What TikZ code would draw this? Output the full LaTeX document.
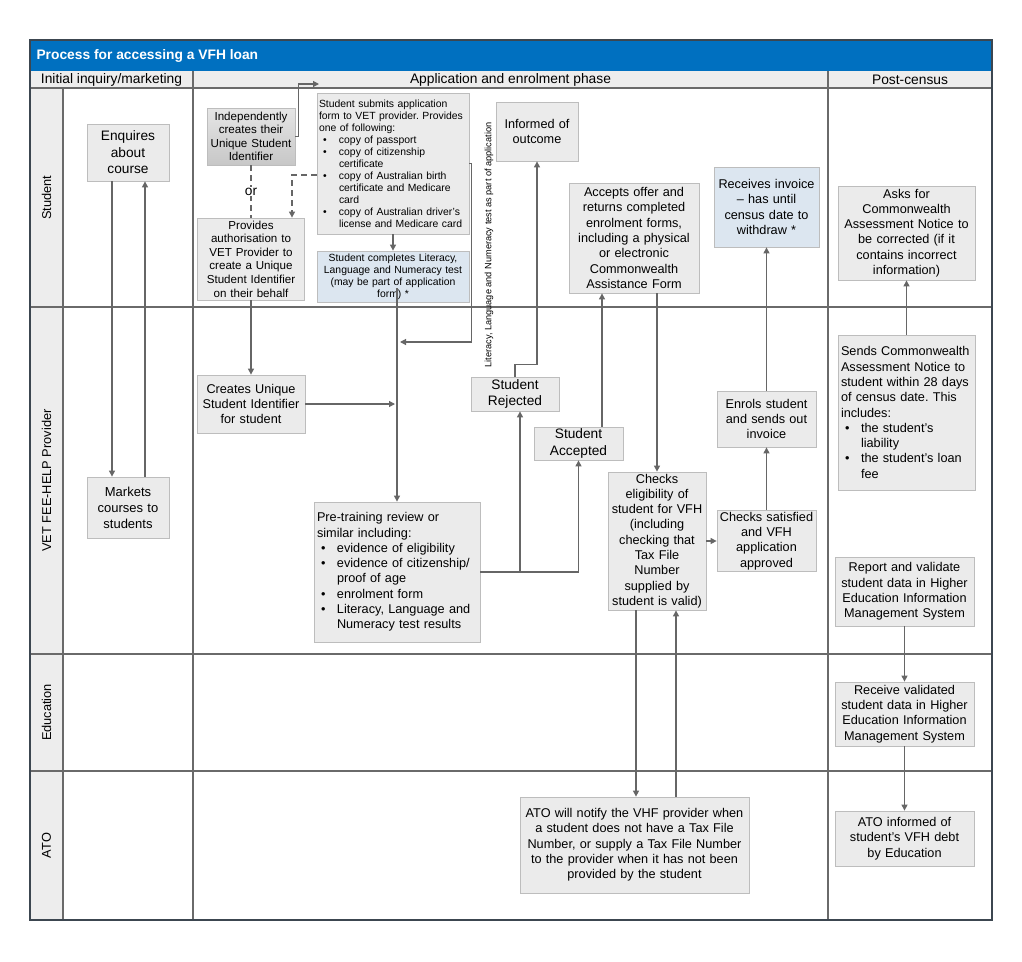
\documentclass[tikz,border=0pt]{standalone}
\usepackage{fontspec}
\setmainfont{Liberation Sans}
\usetikzlibrary{arrows.meta}
\frenchspacing
\definecolor{boxfill}{HTML}{EBEBEB}
\definecolor{boxline}{HTML}{BDBDBD}
\definecolor{bluefill}{HTML}{DCE6F0}
\definecolor{arrowc}{HTML}{666666}
\definecolor{laneline}{HTML}{6A6A6A}
\definecolor{titleblue}{HTML}{0070C0}
\definecolor{headfill}{HTML}{EDEDED}
\definecolor{framec}{HTML}{3C4650}
\newcommand{\fs}[2]{\fontsize{#1}{#2}\selectfont}
\newcommand{\bitem}[1]{\par\noindent\hangindent=20pt\hangafter=1\makebox[20pt][l]{\hspace{4pt}\textbullet}#1}
\tikzset{
  box/.style={draw=boxline, fill=boxfill, line width=0.8pt, align=center, inner sep=0pt, font=\fs{12.7}{15.3}},
  bluebox/.style={box, fill=bluefill},
  sz/.style n args={3}{minimum width=#1pt, minimum height=#2pt, text width=#3pt},
  arr/.style={draw=arrowc, line width=1.2pt, -{Triangle[length=6pt,width=6pt]}},
  dashln/.style={draw=arrowc, line width=1.2pt, dash pattern=on 6pt off 4pt},
  lane/.style={draw=laneline, line width=1.1pt},
  lanelbl/.style={rotate=90, font=\fs{12.8}{15}},
  hdr/.style={font=\fs{13.8}{16}}
}
\begin{document}
\begin{tikzpicture}[x=1pt,y=-1pt]
\fill[white] (0,0) rectangle (1022,961);
\useasboundingbox (0,0) rectangle (1022,961);
% frame
\fill[titleblue] (30,40) rectangle (992,71);
\fill[headfill] (30,71) rectangle (992,88);
\fill[headfill] (30,88) rectangle (63,920);
\node[anchor=west, text=white, font=\bfseries\fs{13.8}{16}] (title) at (33,55.5) {Process for accessing a VFH loan};
\draw[lane] (30,88) -- (992,88);
\draw[lane] (30,307) -- (992,307);
\draw[lane] (30,654) -- (992,654);
\draw[lane] (30,771) -- (992,771);
\draw[lane] (63,88) -- (63,920);
\draw[lane] (193,71) -- (193,920);
\draw[lane] (828,71) -- (828,920);
\draw[framec, line width=1.2pt] (30,40) rectangle (992,920);
\node[hdr] (h1) at (111.5,79.5) {Initial inquiry/marketing};
\node[hdr] (h2) at (510.5,79.5) {Application and enrolment phase};
\node[hdr] (h3) at (910,79.5) {Post-census};
\node[lanelbl] (l1) at (46.5,197.5) {Student};
\node[lanelbl] (l2) at (46.5,480.5) {VET FEE-HELP Provider};
\node[lanelbl] (l3) at (46.5,712.5) {Education};
\node[lanelbl] (l4) at (46.5,845.5) {ATO};

% boxes
\node[box, sz={82}{57}{80}, font=\fs{13.7}{16.5}] (enq) at (128,152.5) {Enquires\\about\\course};
\node[box, sz={82}{61}{80}, font=\fs{13}{16}] (mkt) at (128,507.5) {Markets\\courses to\\students};
\node[box, sz={88}{57}{86}, font=\fs{11.6}{13.4}, top color=black!10, bottom color=black!22, draw=boxline] (indep) at (251,136.5) {Independently\\creates their\\Unique Student\\Identifier};
\node[box, sz={107}{82}{105}, font=\fs{11.6}{13.6}] (prov) at (251,259) {Provides\\authorisation to\\VET Provider to\\create a Unique\\Student Identifier\\on their behalf};
\node[box, sz={152}{141}{148}, align=left, font=\fs{10.4}{12}] (subm) at (393,163.5) {Student submits application\newline form to VET provider. Provides\newline one of following:
\bitem{copy of passport}
\bitem{copy of citizenship\newline certificate}
\bitem{copy of Australian birth\newline certificate and Medicare\newline card}
\bitem{copy of Australian driver's\newline license and Medicare card}\par};
\node[bluebox, sz={152}{51}{150}, font=\fs{10.4}{12}] (lln) at (393,276.5) {Student completes Literacy,\\Language and Numeracy test\\(may be part of application\\form) *};
\node[box, sz={82}{59}{80}] (inf) at (537,131.5) {Informed of\\outcome};
\node[box, sz={130}{110}{128}] (acco) at (634,238) {Accepts offer and\\returns completed\\enrolment forms,\\including a physical\\or electronic\\Commonwealth\\Assistance Form};
\node[bluebox, sz={105}{80}{103}] (recv) at (766.5,207) {Receives invoice\\– has until\\census date to\\withdraw *};
\node[box, sz={137}{94}{135}] (asks) at (906.5,233) {Asks for\\Commonwealth\\Assessment Notice to\\be corrected (if it\\contains incorrect\\information)};
\node[box, sz={108}{58}{106}] (creates) at (251,404) {Creates Unique\\Student Identifier\\for student};
\node[box, sz={88}{34}{86}, font=\fs{13.7}{16.7}] (rej) at (515,394) {Student\\Rejected};
\node[box, sz={89}{33}{87}, font=\fs{13.7}{16.7}] (accd) at (578.5,443.5) {Student\\Accepted};
\node[box, sz={166}{140}{160}, align=left] (pre) at (397,572) {Pre-training review or\newline similar including:
\bitem{evidence of eligibility}
\bitem{evidence of citizenship/\newline proof of age}
\bitem{enrolment form}
\bitem{Literacy, Language and\newline Numeracy test results}\par};
\node[box, sz={98}{138}{96}] (chk) at (657,541) {Checks\\eligibility of\\student for VFH\\(including\\checking that\\Tax File\\Number\\supplied by\\student is valid)};
\node[box, sz={99}{61}{97}] (sat) at (766.5,541) {Checks satisfied\\and VFH\\application\\approved};
\node[box, sz={99}{56}{97}] (enrol) at (766.5,419) {Enrols student\\and sends out\\invoice};
\node[box, sz={137}{155}{131}, align=left] (sends) at (906.5,412.5) {Sends Commonwealth\newline Assessment Notice to\newline student within 28 days\newline of census date. This\newline includes:
\bitem{the student's\newline liability}
\bitem{the student's loan\newline fee}\par};
\node[box, sz={139}{69}{137}] (report) at (904.5,591.5) {Report and validate\\student data in Higher\\Education Information\\Management System};
\node[box, sz={139}{64}{137}] (recvd) at (904.5,714) {Receive validated\\student data in Higher\\Education Information\\Management System};
\node[box, sz={139}{55}{137}] (atoinf) at (904.5,838.5) {ATO informed of\\student's VFH debt\\by Education};
\node[box, sz={229}{96}{227}] (ato) at (634.5,845) {ATO will notify the VHF provider when\\a student does not have a Tax File\\Number, or supply a Tax File Number\\to the provider when it has not been\\provided by the student};

\node[rotate=90, font=\fs{9.2}{11}] (lbl) at (489,245) {Literacy, Language and Numeracy test as part of application};

% connectors
\draw[arr] ([xshift=-16pt]enq.south) -- ([xshift=-16pt]mkt.north);
\draw[arr] ([xshift=17pt]mkt.north) -- ([xshift=17pt]enq.south);
\coordinate (hdrend) at (319,84);
\draw[arr] (indep.east) -- ++(3,0) |- (hdrend);
\draw[dashln] (indep.south) -- node[fill=white, inner sep=1pt, font=\fs{13.7}{16}] (or) {or} (prov.north);
\coordinate (d1) at ([xshift=41pt]prov.north);
\draw[dashln, -{Triangle[length=6pt,width=6pt]}] ([yshift=-11.5pt]subm.west) -| (d1);
\draw[arr] (subm.south) -- (lln.north);
\draw[arr] ([xshift=4pt,yshift=14pt]lln.south) -- (pre.north);
\coordinate (llnjoin) at (400,342);
\draw[arr] (subm.east) -- ++(2,0) |- (llnjoin);
\draw[arr] (prov.south) -- (creates.north);
\coordinate (crjoin) at (395,404);
\draw[arr] (creates.east) -- (crjoin);
\draw[arr] (pre.east) -| (accd.south);
\coordinate (br) at (520,572);
\draw[arr] (br) -- (br |- rej.south);
\draw[arr] (rej.north) -- ++(0,-12) -| (inf.south);
\coordinate (a1) at ([xshift=23.5pt]accd.north);
\draw[arr] (a1) -- (a1 |- acco.south);
\draw[arr] (acco.south -| chk.north) -- (chk.north);
\draw[arr] (chk.east) -- (sat.west);
\draw[arr] (sat.north) -- (enrol.south);
\draw[arr] (enrol.north) -- (recv.south);
\coordinate (c1) at ([xshift=-21pt]chk.south);
\draw[arr] (c1) -- (c1 |- ato.north);
\coordinate (c2) at ([xshift=19pt]chk.south);
\draw[arr] (c2 |- ato.north) -- (c2);
\draw[arr] (sends.north) -- (asks.south);
\draw[arr] (report.south) -- (recvd.north);
\draw[arr] (recvd.south) -- (atoinf.north);
\end{tikzpicture}
\end{document}
